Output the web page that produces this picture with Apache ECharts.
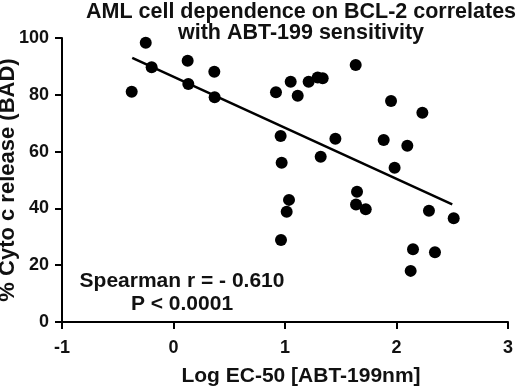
<!DOCTYPE html>
<html>
<head>
<meta charset="utf-8">
<script src="https://cdn.jsdelivr.net/npm/echarts@6/dist/echarts.min.js"></script>
<style>
  html, body { margin: 0; padding: 0; background: #fff; }
  #chart { width: 520px; height: 392px; }
</style>
</head>
<body>
<div id="chart"></div>
<script>
// log EC-50 values and % cyto c release
const logEC50 = [-0.375, -0.249, -0.196, 0.127, 0.133, 0.366, 0.369, 0.919, 1.051, 1.114,
  1.212, 1.293, 1.338, 1.634, 0.961, 1.452, 1.320, 0.970, 1.036, 1.015,
  0.964, 1.885, 2.097, 1.983, 1.646, 1.637, 1.724, 2.291, 2.513, 2.148,
  2.345, 2.127, 1.951, 2.232];
const cytoRelease = [81.1, 98.3, 89.7, 92.0, 83.8, 88.1, 79.1, 80.9, 84.6, 79.7,
  84.6, 86.1, 85.8, 90.5, 65.5, 64.5, 58.2, 56.1, 43.0, 38.8,
  28.9, 64.1, 62.1, 54.3, 45.9, 41.4, 39.7, 39.2, 36.5, 25.6,
  24.6, 18.0, 77.8, 73.7];

// fitted line ends
const fitX = [-0.37, 2.5];
const fitY = [93.0, 41.4];

const xTicks = [-1, 0, 1, 2, 3];
const yTicks = [0, 20, 40, 60, 80, 100];

const titleLines = ['AML cell dependence on BCL-2 correlates', 'with ABT-199 sensitivity'];
const statLines = ['Spearman r = - 0.610', 'P < 0.0001'];

const chart = echarts.init(document.getElementById('chart'));
const font = '"Liberation Sans", Arial, sans-serif';

const points = logEC50.map((x, i) => [x, cytoRelease[i]]);
const line = fitX.map((x, i) => [x, fitY[i]]);

const option = {
  animation: false,
  backgroundColor: '#fff',
  grid: { left: 62, right: 12, top: 38, bottom: 70, outerBoundsMode: 'none', containLabel: false },
  xAxis: {
    type: 'value',
    min: xTicks[0], max: xTicks[xTicks.length - 1], interval: 1,
    name: 'Log EC-50 [ABT-199nm]',
    nameLocation: 'middle', nameGap: 44,
    nameTextStyle: { fontFamily: font, fontWeight: 'bold', fontSize: 21, color: '#111', padding: [0, 0, 0, 32] },
    axisLine: { onZero: false, lineStyle: { color: '#000', width: 2 } },
    axisTick: { show: true, length: 7, lineStyle: { color: '#000', width: 2 } },
    axisLabel: { fontFamily: font, fontWeight: 'bold', fontSize: 18, color: '#111', margin: 17 },
    splitLine: { show: false }
  },
  yAxis: {
    type: 'value',
    min: yTicks[0], max: yTicks[yTicks.length - 1], interval: 20,
    name: '% Cyto c release (BAD)',
    nameLocation: 'middle', nameGap: 43, nameMoveOverlap: false,
    nameTextStyle: { fontFamily: font, fontWeight: 'bold', fontSize: 22, color: '#111' },
    axisLine: { show: true, onZero: false, lineStyle: { color: '#000', width: 2 } },
    axisTick: { show: true, length: 7, lineStyle: { color: '#000', width: 2 } },
    axisLabel: { fontFamily: font, fontWeight: 'bold', fontSize: 18, color: '#111', margin: 13 },
    splitLine: { show: false }
  },
  graphic: [
    {
      type: 'text', x: 301, y: 2,
      style: {
        text: titleLines.join('\n'), align: 'center', verticalAlign: 'top',
        fontFamily: font, fontWeight: 'bold', fontSize: 21.5, lineHeight: 21, fill: '#111'
      }
    },
    {
      type: 'text', x: 182, y: 270,
      style: {
        text: statLines.join('\n'), align: 'center', verticalAlign: 'top',
        fontFamily: font, fontWeight: 'bold', fontSize: 21, lineHeight: 23, fill: '#111'
      }
    }
  ],
  series: [
    {
      type: 'scatter',
      data: points,
      symbol: 'circle',
      symbolSize: 12,
      itemStyle: { color: '#000', opacity: 1 },
      z: 3
    },
    {
      type: 'line',
      data: line,
      symbol: 'none',
      lineStyle: { color: '#000', width: 2.5 },
      z: 2
    }
  ]
};

chart.setOption(option);
</script>
</body>
</html>
